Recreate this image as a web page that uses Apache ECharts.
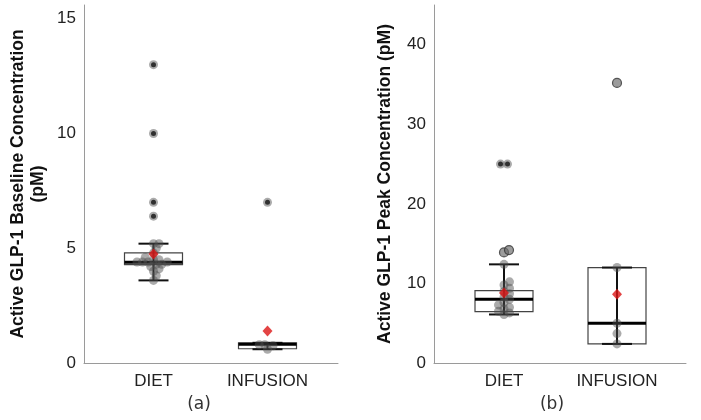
<!DOCTYPE html>
<html>
<head>
<meta charset="utf-8">
<script src="https://cdn.jsdelivr.net/npm/echarts@6/dist/echarts.min.js"></script>
<style>html,body{margin:0;padding:0;background:#fff}#c{width:701px;height:420px}</style>
</head>
<body>
<div id="c"></div>
<script>
// ---- data ----
const categories = ['DIET', 'INFUSION'];
const panelLabels = ['(a)', '(b)'];
const yTitleA = 'Active GLP-1 Baseline Concentration\n(pM)';
const yTitleB = 'Active GLP-1 Peak Concentration (pM)';
const yMaxA = 15.6, yIntervalA = 5;
const yMaxB = 45, yIntervalB = 10;

// box stats: [lowWhisker, Q1, median, Q3, highWhisker]
const boxBaselineDiet = [3.6, 4.29, 4.39, 4.8, 5.2];
const boxBaselineInfusion = [0.6, 0.62, 0.82, 0.88, 0.88];
const boxPeakDiet = [6.1, 6.45, 8.0, 9.1, 12.4];
const boxPeakInfusion = [2.4, 2.4, 5.0, 12.0, 12.0];
const meanBaseline = [4.75, 1.39];
const meanPeak = [8.8, 8.65];

// individual observations
const ptsBaselineDiet = [3.6, 3.8, 4.0, 4.1, 4.2, 4.3, 4.3, 4.4, 4.4, 4.4, 4.4, 4.5, 4.5, 4.6, 4.8, 5.0, 5.2, 5.2];
const extBaselineDiet = [6.4, 7.0, 10.0, 13.0];
const ptsBaselineInfusion = [0.6, 0.75, 0.8, 0.8];
const extBaselineInfusion = [7.0];
const ptsPeakDiet = [6.1, 6.3, 6.5, 6.8, 7.0, 7.3, 7.6, 8.0, 8.3, 8.7, 9.0, 9.4, 9.8, 10.2, 12.4];
const outPeakDiet = [13.9, 14.2];
const extPeakDiet = [25.0, 25.0];
const ptsPeakInfusion = [2.4, 3.7, 5.0, 12.0];
const outPeakInfusion = [35.2];

// ---- layout ----
const TOP = 5, H = 358;
const pxXA = 114, pxXB = 113;

function swarm(values, cat, yMax, pxX, d, center) {
  const pxY = H / yMax;
  const placed = [];
  values.slice().sort((a, b) => a - b).forEach(v => {
    const y = v * pxY;
    let x = 0;
    const cand = [0];
    for (let i = 1; i < 30; i++) { cand.push(i * d / 2); cand.push(-i * d / 2); }
    for (const c of cand) {
      if (placed.every(p => (p[0] - c) ** 2 + (p[1] - y) ** 2 >= d * d * 0.8)) { x = c; break; }
    }
    placed.push([x, y, v]);
  });
  if (center) {
    // center runs of identical values
    let i = 0;
    while (i < placed.length) {
      let j = i;
      while (j + 1 < placed.length && placed[j + 1][2] === placed[i][2]) j++;
      if (j > i) {
        let m = 0; for (let k = i; k <= j; k++) m += placed[k][0];
        m /= (j - i + 1);
        for (let k = i; k <= j; k++) placed[k][0] -= m;
      }
      i = j + 1;
    }
  }
  return placed.map(p => [cat + p[0] / pxX, p[2]]);
}

function renderBox(params, api) {
  const x = api.value(0);
  const pLow = api.coord([x, api.value(1)]);
  const pQ1 = api.coord([x, api.value(2)]);
  const pMed = api.coord([x, api.value(3)]);
  const pQ3 = api.coord([x, api.value(4)]);
  const pHigh = api.coord([x, api.value(5)]);
  const cx = pLow[0], hw = 29, cw = 15;
  const ch = [
    { type: 'rect', shape: { x: cx - hw, y: pQ3[1], width: 2 * hw, height: Math.max(pQ1[1] - pQ3[1], 1) },
      style: { fill: '#fff', stroke: '#444', lineWidth: 1.2 } },
    { type: 'line', shape: { x1: cx, y1: pHigh[1], x2: cx, y2: pLow[1] }, style: { stroke: '#111', lineWidth: 2 } },
    { type: 'line', shape: { x1: cx - cw, y1: pHigh[1], x2: cx + cw, y2: pHigh[1] }, style: { stroke: '#111', lineWidth: 2 } },
    { type: 'line', shape: { x1: cx - cw, y1: pLow[1], x2: cx + cw, y2: pLow[1] }, style: { stroke: '#111', lineWidth: 2 } },
    { type: 'line', shape: { x1: cx - hw, y1: pMed[1], x2: cx + hw, y2: pMed[1] }, style: { stroke: '#000', lineWidth: 3 } }
  ];
  return { type: 'group', children: ch };
}

function panelSeries(xi, yi, boxes, means, pts, outs, exts, yMax, pxX) {
  const s = [];
  s.push({ type: 'custom', xAxisIndex: xi, yAxisIndex: yi, renderItem: renderBox, clip: false, z: 1,
    encode: { x: 0, y: [1, 2, 3, 4, 5] },
    data: boxes.map((b, i) => [i].concat(b)) });
  let gray = [], outer = [], ext = [];
  pts.forEach((p, i) => { gray = gray.concat(swarm(p, i, yMax, pxX, 5.5, false)); });
  outs.forEach((p, i) => { outer = outer.concat(swarm(p, i, yMax, pxX, 5, false)); });
  exts.forEach((p, i) => { ext = ext.concat(swarm(p, i, yMax, pxX, 7, true)); });
  s.push({ type: 'scatter', xAxisIndex: xi, yAxisIndex: yi, z: 2, symbolSize: 9, silent: true,
    itemStyle: { color: 'rgba(80,80,80,0.6)' }, data: gray });
  s.push({ type: 'scatter', xAxisIndex: xi, yAxisIndex: yi, z: 2, symbolSize: 9, silent: true,
    itemStyle: { color: 'rgba(110,110,110,0.85)', borderColor: '#333', borderWidth: 1.2 }, data: outer });
  s.push({ type: 'scatter', xAxisIndex: xi, yAxisIndex: yi, z: 2, symbolSize: 9, silent: true,
    itemStyle: { color: 'rgba(80,80,80,0.6)' }, data: ext });
  s.push({ type: 'scatter', xAxisIndex: xi, yAxisIndex: yi, z: 3, symbolSize: 5, silent: true,
    itemStyle: { color: '#111' }, data: ext });
  s.push({ type: 'scatter', xAxisIndex: xi, yAxisIndex: yi, z: 4, symbol: 'diamond', symbolSize: [10, 11], silent: true,
    itemStyle: { color: '#dc1515' }, data: means.map((m, i) => [i, m]) });
  return s;
}

const axisLineStyle = { show: true, lineStyle: { color: '#9a9a9a', width: 1 } };
const tickLabel = { color: '#222', fontSize: 17, fontFamily: 'Liberation Sans, Arial, sans-serif', margin: 8, showMaxLabel: false };
const catLabel = { color: '#222', fontSize: 17, fontFamily: 'Liberation Sans, Arial, sans-serif', margin: 10 };
const nameStyle = { color: '#111', fontSize: 17.5, fontWeight: 'bold', fontFamily: 'Liberation Sans, Arial, sans-serif', lineHeight: 20 };

const option = {
  animation: false,
  backgroundColor: '#fff',
  grid: [
    { left: 84, top: TOP, width: 254, height: H },
    { left: 96.5, top: TOP, width: 228, height: H },
    { left: 434, top: TOP, width: 252, height: H },
    { left: 447.5, top: TOP, width: 226, height: H }
  ],
  xAxis: [
    { gridIndex: 0, type: 'value', min: 0, max: 1, axisLine: axisLineStyle, axisTick: { show: false }, axisLabel: { show: false }, splitLine: { show: false } },
    { gridIndex: 1, type: 'category', data: categories, position: 'bottom', axisLine: { show: false }, axisTick: { show: false }, axisLabel: catLabel },
    { gridIndex: 1, type: 'value', min: -0.5, max: 1.5, show: false },
    { gridIndex: 2, type: 'value', min: 0, max: 1, axisLine: axisLineStyle, axisTick: { show: false }, axisLabel: { show: false }, splitLine: { show: false } },
    { gridIndex: 3, type: 'category', data: categories, position: 'bottom', axisLine: { show: false }, axisTick: { show: false }, axisLabel: catLabel },
    { gridIndex: 3, type: 'value', min: -0.5, max: 1.5, show: false }
  ],
  yAxis: [
    { gridIndex: 0, type: 'value', min: 0, max: yMaxA, interval: yIntervalA, axisLine: axisLineStyle, axisTick: { show: false },
      axisLabel: tickLabel, splitLine: { show: false },
      name: yTitleA, nameLocation: 'middle', nameGap: 36, nameTextStyle: nameStyle },
    { gridIndex: 1, type: 'value', min: 0, max: yMaxA, show: false },
    { gridIndex: 2, type: 'value', min: 0, max: yMaxB, interval: yIntervalB, axisLine: axisLineStyle, axisTick: { show: false },
      axisLabel: tickLabel, splitLine: { show: false },
      name: yTitleB, nameLocation: 'middle', nameGap: 39, nameTextStyle: nameStyle },
    { gridIndex: 3, type: 'value', min: 0, max: yMaxB, show: false }
  ],
  graphic: [
    { type: 'text', x: 199, y: 405, style: { text: panelLabels[0], textAlign: 'center', textVerticalAlign: 'middle', font: '17px "DejaVu Sans"', fill: '#333' } },
    { type: 'text', x: 552, y: 405, style: { text: panelLabels[1], textAlign: 'center', textVerticalAlign: 'middle', font: '17px "DejaVu Sans"', fill: '#333' } }
  ],
  series: [].concat(
    panelSeries(2, 1, [boxBaselineDiet, boxBaselineInfusion], meanBaseline,
      [ptsBaselineDiet, ptsBaselineInfusion], [[], []], [extBaselineDiet, extBaselineInfusion], yMaxA, pxXA),
    panelSeries(5, 3, [boxPeakDiet, boxPeakInfusion], meanPeak,
      [ptsPeakDiet, ptsPeakInfusion], [outPeakDiet, outPeakInfusion], [extPeakDiet, []], yMaxB, pxXB)
  )
};

const chart = echarts.init(document.getElementById('c'), null, { renderer: 'canvas' });
chart.setOption(option);
</script>
</body>
</html>
